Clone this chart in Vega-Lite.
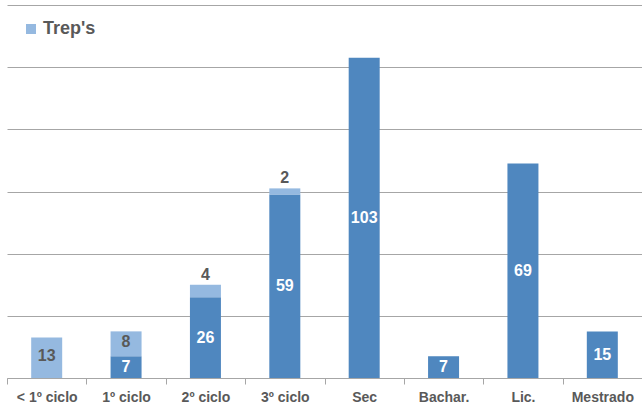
{
  "$schema": "https://vega.github.io/schema/vega-lite/v6.json",
  "width": 635,
  "height": 373,
  "autosize": {"type": "none"},
  "padding": {"left": 7, "top": 5, "right": 0, "bottom": 32},
  "config": {
    "view": {"stroke": null},
    "font": "Liberation Sans, Arial",
    "legend": {"padding": 0}
  },
  "data": {
    "values": [
      {"cat": "< 1º ciclo", "serie": "Trep's", "valor": 13},
      {"cat": "1º ciclo", "serie": "Outros", "valor": 7},
      {"cat": "1º ciclo", "serie": "Trep's", "valor": 8},
      {"cat": "2º ciclo", "serie": "Outros", "valor": 26},
      {"cat": "2º ciclo", "serie": "Trep's", "valor": 4},
      {"cat": "3º ciclo", "serie": "Outros", "valor": 59},
      {"cat": "3º ciclo", "serie": "Trep's", "valor": 2},
      {"cat": "Sec", "serie": "Outros", "valor": 103},
      {"cat": "Bachar.", "serie": "Outros", "valor": 7},
      {"cat": "Lic.", "serie": "Outros", "valor": 69},
      {"cat": "Mestrado", "serie": "Outros", "valor": 15}
    ]
  },
  "transform": [
    {"stack": "valor", "groupby": ["cat"], "sort": [{"field": "serie", "order": "ascending"}], "as": ["y0", "y1"]},
    {"calculate": "(datum.y0 + datum.y1) / 2", "as": "ymid"}
  ],
  "encoding": {
    "x": {
      "field": "cat",
      "type": "nominal",
      "sort": ["< 1º ciclo", "1º ciclo", "2º ciclo", "3º ciclo", "Sec", "Bachar.", "Lic.", "Mestrado"],
      "scale": {"paddingInner": 0, "paddingOuter": 0},
      "title": null,
      "axis": {
        "labelAngle": 0,
        "labelFontSize": 14,
        "labelFontWeight": "bold",
        "labelColor": "#595959",
        "domainColor": "#a6a6a6",
        "tickColor": "#a6a6a6",
        "tickSize": 6,
        "tickBand": "extent",
        "labelPadding": 6
      }
    }
  },
  "layer": [
    {
      "mark": {"type": "bar", "width": 31},
      "encoding": {
        "y": {
          "field": "y0",
          "type": "quantitative",
          "scale": {"domain": [0, 120]},
          "title": null,
          "axis": {
            "values": [0, 20, 40, 60, 80, 100, 120],
            "labels": false,
            "ticks": false,
            "domain": false,
            "grid": true,
            "gridColor": "#a6a6a6",
            "gridWidth": 1
          }
        },
        "y2": {"field": "y1"},
        "color": {
          "field": "serie",
          "type": "nominal",
          "scale": {"domain": ["Outros", "Trep's"], "range": ["#4F87BF", "#95B9E0"]},
          "legend": {
            "values": ["Trep's"],
            "title": null,
            "orient": "none",
            "legendX": 15,
            "legendY": 15,
            "symbolType": "square",
            "symbolSize": 100,
            "symbolStrokeWidth": 0,
            "labelFontSize": 18,
            "labelFontWeight": "bold",
            "labelColor": "#595959",
            "labelOffset": 3
          }
        }
      }
    },
    {
      "transform": [{"filter": "datum.serie == 'Outros'"}],
      "mark": {"type": "text", "fontSize": 16, "fontWeight": "bold", "color": "white", "baseline": "middle"},
      "encoding": {
        "y": {"field": "ymid", "type": "quantitative"},
        "text": {"field": "valor", "type": "quantitative"}
      }
    },
    {
      "transform": [{"filter": "datum.serie == \"Trep's\" && datum.valor >= 6"}],
      "mark": {"type": "text", "fontSize": 16, "fontWeight": "bold", "color": "#595959", "baseline": "middle", "dy": -2},
      "encoding": {
        "y": {"field": "ymid", "type": "quantitative"},
        "text": {"field": "valor", "type": "quantitative"}
      }
    },
    {
      "transform": [{"filter": "datum.serie == \"Trep's\" && datum.valor < 6"}],
      "mark": {"type": "text", "fontSize": 16, "fontWeight": "bold", "color": "#595959", "baseline": "alphabetic", "dy": -5},
      "encoding": {
        "y": {"field": "y1", "type": "quantitative"},
        "text": {"field": "valor", "type": "quantitative"}
      }
    }
  ]
}
